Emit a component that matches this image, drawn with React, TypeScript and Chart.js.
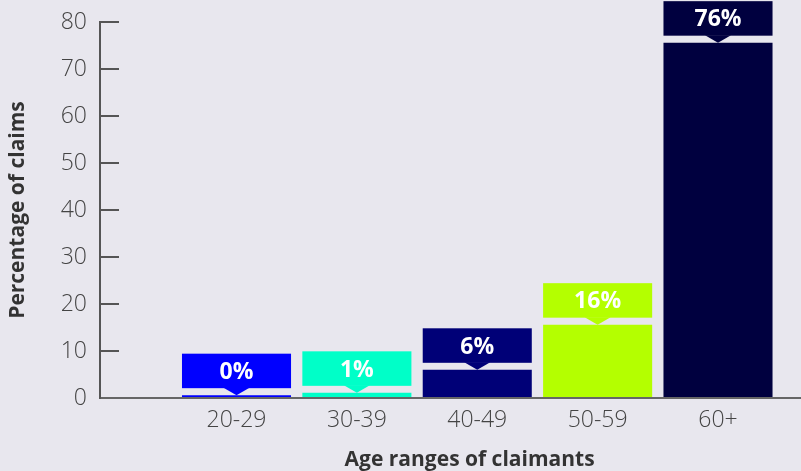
import { useEffect, useRef } from 'react';
import { Chart, registerables } from 'chart.js';

Chart.register(...registerables);

const categories = ['20-29', '30-39', '40-49', '50-59', '60+'];
const values = [0.6, 1.1, 6.0, 15.6, 75.6];
const valueLabels = ['0%', '1%', '6%', '16%', '76%'];
const barColors = ['#0000FF', '#00FFC8', '#000077', '#B4FF00', '#00003F'];
const yMin = 0;
const yMax = 80;
const yStep = 10;

const BG = '#E8E7EE';

const calloutPlugin = {
  id: 'callouts',
  afterDatasetsDraw(chart: any) {
    const ctx = chart.ctx;
    const meta = chart.getDatasetMeta(0);
    meta.data.forEach((bar: any, i: number) => {
      const { x, y, width } = bar.getProps(['x', 'y', 'width'], true);
      const gap = 7;
      const boxH = 34.5;
      const triW = 26;
      const boxBottom = y - gap;
      const boxTop = boxBottom - boxH;
      ctx.save();
      ctx.fillStyle = barColors[i];
      ctx.fillRect(x - width / 2, boxTop, width, boxH);
      ctx.beginPath();
      ctx.moveTo(x - triW / 2, boxBottom - 0.5);
      ctx.lineTo(x + triW / 2, boxBottom - 0.5);
      ctx.lineTo(x, y);
      ctx.closePath();
      ctx.fill();
      ctx.fillStyle = '#FFFFFF';
      ctx.font = 'bold 23px "Open Sans"';
      ctx.textAlign = 'center';
      ctx.textBaseline = 'middle';
      ctx.fillText(valueLabels[i], x, boxTop + boxH / 2 + 1.5);
      ctx.restore();
    });
  },
};

export default function App() {
  const ref = useRef<HTMLCanvasElement | null>(null);

  useEffect(() => {
    if (!ref.current) return;
    const chart = new Chart(ref.current, {
      type: 'bar',
      data: {
        datasets: [
          {
            data: values.map((v, i) => ({ x: i + 1, y: v })),
            backgroundColor: barColors,
            borderWidth: 0,
            barPercentage: 0.906,
            categoryPercentage: 1,
          },
        ],
      },
      plugins: [calloutPlugin],
      options: {
        responsive: false,
        animation: false,
        layout: { padding: { top: 22, right: 0, left: 0, bottom: 0 } },
        plugins: {
          legend: { display: false },
          tooltip: { enabled: false },
        },
        scales: {
          x: {
            type: 'linear',
            offset: false,
            min: -0.134,
            max: 5.6895,
            afterFit(scale: any) {
              scale.height = 73;
            },
            afterBuildTicks(scale: any) {
              scale.ticks = categories.map((_, i) => ({ value: i + 1 }));
            },
            grid: { display: false, drawTicks: false },
            border: { display: true, color: '#666666', width: 2 },
            ticks: {
              autoSkip: false,
              maxRotation: 0,
              padding: 9,
              color: '#444444',
              font: { family: '"Open Sans"', size: 23, weight: 300 },
              callback: (value: any) => categories[Number(value) - 1] ?? '',
            },
            title: {
              display: true,
              text: '\u00A0\u00A0\u00A0\u00A0\u00A0\u00A0\u00A0Age ranges of claimants',
              color: '#333333',
              font: { family: '"Open Sans"', size: 21, weight: 'bold' },
              padding: { top: 0, bottom: -2 },
            },
          },
          y: {
            min: yMin,
            max: yMax,
            afterFit(scale: any) {
              scale.width = 100;
              scale.paddingTop = 12;
              scale.paddingBottom = 12;
            },
            grid: {
              drawOnChartArea: false,
              drawTicks: true,
              tickLength: -19,
              color: '#555555',
              lineWidth: 2,
            },
            border: { display: true, color: '#555555', width: 2 },
            ticks: {
              stepSize: yStep,
              padding: 32,
              color: '#444444',
              font: { family: '"Open Sans"', size: 23, weight: 300 },
            },
            title: {
              display: true,
              text: 'Percentage of claims',
              color: '#333333',
              font: { family: '"Open Sans"', size: 21, weight: 'bold' },
              padding: { top: 5, bottom: 0 },
            },
          },
        },
      },
    });
    return () => chart.destroy();
  }, []);

  return (
    <div
      style={{
        position: 'absolute',
        left: 0,
        top: 0,
        width: 801,
        height: 471,
        background: BG,
        overflow: 'hidden',
      }}
    >
      <canvas ref={ref} width={801} height={471} style={{ display: 'block' }} />
    </div>
  );
}
